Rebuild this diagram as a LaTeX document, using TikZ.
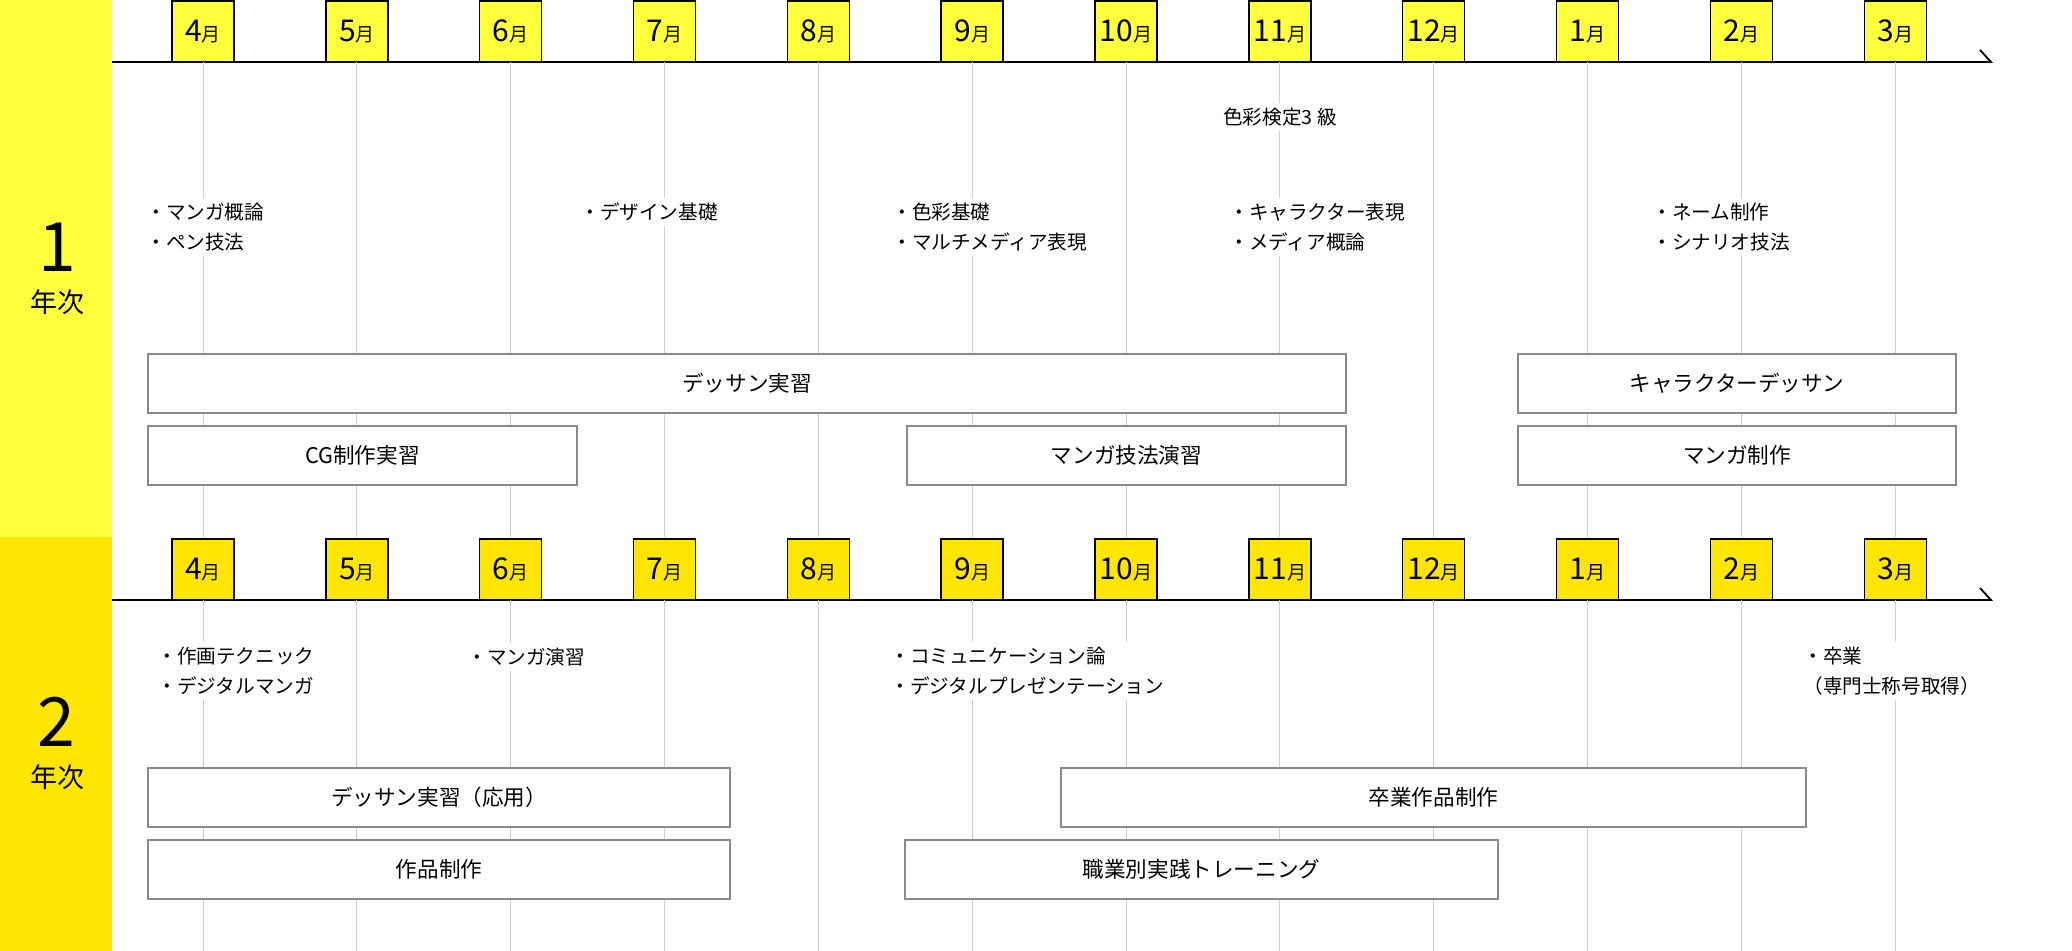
\documentclass[tikz,border=0pt]{standalone}
\usepackage{fontspec}
\setmainfont{Noto Sans CJK JP}
\usepackage{tikz}
\usetikzlibrary{positioning, chains}

\definecolor{yearone}{HTML}{FFFF3C}
\definecolor{yeartwo}{HTML}{FFE600}
\definecolor{framegray}{HTML}{8A8A8A}
\definecolor{gridgray}{HTML}{CFCFCF}

\newcommand{\tsuki}[1]{{\fontsize{15}{15}\selectfont #1}{\fontsize{9.5}{9.5}\selectfont 月}}

\begin{document}
\begin{tikzpicture}[x=0.5pt, y=-0.5pt, font=\fontsize{9.8}{15}\selectfont, node distance=45.92pt,
    monthbox/.style={draw, line width=0.75pt, minimum width=31pt, minimum height=30.6pt, inner sep=0pt, outer sep=0pt, anchor=south},
    course/.style={draw=framegray, fill=white, line width=0.8pt, minimum height=29.5pt, inner sep=0pt, font=\fontsize{10.8}{12}\selectfont},
    topic/.style={fill=white, align=left, anchor=west, inner xsep=2pt, inner ysep=2.5pt},
    monthline/.style={gridgray, line width=0.5pt},
    axisline/.style={line width=0.9pt}]

\useasboundingbox (0,0) rectangle (2072,951);

\fill[yearone] (0,0) rectangle (112,537);
\fill[yeartwo] (0,537) rectangle (112,951);

\coordinate (bot1) at (0,537);
\coordinate (bot2) at (0,951);
\coordinate (ax1s) at (112,62);
\coordinate (ax1e) at (1991,62);
\coordinate (ax2s) at (112,600);
\coordinate (ax2e) at (1991,600);

\begin{scope}[start chain=going right]
    \node [monthbox, fill=yearone, on chain] (a4) at (203,62) {\tsuki{4}};
    \node [monthbox, fill=yearone, on chain] (a5) {\tsuki{5}};
    \node [monthbox, fill=yearone, on chain] (a6) {\tsuki{6}};
    \node [monthbox, fill=yearone, on chain] (a7) {\tsuki{7}};
    \node [monthbox, fill=yearone, on chain] (a8) {\tsuki{8}};
    \node [monthbox, fill=yearone, on chain] (a9) {\tsuki{9}};
    \node [monthbox, fill=yearone, on chain] (a10) {\tsuki{10}};
    \node [monthbox, fill=yearone, on chain] (a11) {\tsuki{11}};
    \node [monthbox, fill=yearone, on chain] (a12) {\tsuki{12}};
    \node [monthbox, fill=yearone, on chain] (a1) {\tsuki{1}};
    \node [monthbox, fill=yearone, on chain] (a2) {\tsuki{2}};
    \node [monthbox, fill=yearone, on chain] (a3) {\tsuki{3}};
\end{scope}

\begin{scope}[start chain=going right]
    \node [monthbox, fill=yeartwo, on chain] (b4) at (203,600) {\tsuki{4}};
    \node [monthbox, fill=yeartwo, on chain] (b5) {\tsuki{5}};
    \node [monthbox, fill=yeartwo, on chain] (b6) {\tsuki{6}};
    \node [monthbox, fill=yeartwo, on chain] (b7) {\tsuki{7}};
    \node [monthbox, fill=yeartwo, on chain] (b8) {\tsuki{8}};
    \node [monthbox, fill=yeartwo, on chain] (b9) {\tsuki{9}};
    \node [monthbox, fill=yeartwo, on chain] (b10) {\tsuki{10}};
    \node [monthbox, fill=yeartwo, on chain] (b11) {\tsuki{11}};
    \node [monthbox, fill=yeartwo, on chain] (b12) {\tsuki{12}};
    \node [monthbox, fill=yeartwo, on chain] (b1) {\tsuki{1}};
    \node [monthbox, fill=yeartwo, on chain] (b2) {\tsuki{2}};
    \node [monthbox, fill=yeartwo, on chain] (b3) {\tsuki{3}};
\end{scope}

\draw[axisline] (ax1s) -- (ax1e) -- ++(-11,-12);
\draw[axisline] (ax2s) -- (ax2e) -- ++(-11,-12);

\draw[monthline] (a4.south) -- (a4.south |- bot1) (a5.south) -- (a5.south |- bot1)
    (a6.south) -- (a6.south |- bot1) (a7.south) -- (a7.south |- bot1)
    (a8.south) -- (a8.south |- bot1) (a9.south) -- (a9.south |- bot1)
    (a10.south) -- (a10.south |- bot1) (a11.south) -- (a11.south |- bot1)
    (a12.south) -- (a12.south |- bot1) (a1.south) -- (a1.south |- bot1)
    (a2.south) -- (a2.south |- bot1) (a3.south) -- (a3.south |- bot1);
\draw[monthline] (b4.south) -- (b4.south |- bot2) (b5.south) -- (b5.south |- bot2)
    (b6.south) -- (b6.south |- bot2) (b7.south) -- (b7.south |- bot2)
    (b8.south) -- (b8.south |- bot2) (b9.south) -- (b9.south |- bot2)
    (b10.south) -- (b10.south |- bot2) (b11.south) -- (b11.south |- bot2)
    (b12.south) -- (b12.south |- bot2) (b1.south) -- (b1.south |- bot2)
    (b2.south) -- (b2.south |- bot2) (b3.south) -- (b3.south |- bot2);

% year labels
\node[inner sep=0pt, font=\fontsize{34}{34}\selectfont] (yr1) at (57,247) {1};
\node[inner sep=0pt, font=\fontsize{13.5}{14}\selectfont] (yr1t) at (57,302) {年次};
\node[inner sep=0pt, font=\fontsize{34}{34}\selectfont] (yr2) at (56,722) {2};
\node[inner sep=0pt, font=\fontsize{13.5}{14}\selectfont] (yr2t) at (57,777) {年次};

% courses
\node[course, minimum width=599pt] (dessin) at (747,383.5) {デッサン実習};
\node[course, minimum width=214.5pt] (cg) at (362.5,455.5) {CG制作実習};
\node[course, minimum width=219.5pt] (gihou) at (1126.5,455.5) {マンガ技法演習};
\node[course, minimum width=219pt] (chardes) at (1737,383.5) {キャラクターデッサン};
\node[course, minimum width=219pt] (mangasei) at (1737,455.5) {マンガ制作};
\node[course, minimum width=291pt] (dessinapp) at (439,797.5) {デッサン実習（応用）};
\node[course, minimum width=291pt] (sakuhin) at (439,869.5) {作品制作};
\node[course, minimum width=372.5pt] (sotsusaku) at (1433.5,797.5) {卒業作品制作};
\node[course, minimum width=296.5pt] (shokugyo) at (1201.5,869.5) {職業別実践トレーニング};

% topics
\node[topic, anchor=center] (kentei) at (1280,117) {色彩検定3 級};
\node[topic] (tp1) at (142,227) {・マンガ概論\\・ペン技法};
\node[topic] (tp2) at (576,212) {・デザイン基礎};
\node[topic] (tp3) at (888,227) {・色彩基礎\\・マルチメディア表現};
\node[topic] (tp4) at (1225,227) {・キャラクター表現\\・メディア概論};
\node[topic] (tp5) at (1648,227) {・ネーム制作\\・シナリオ技法};
\node[topic] (tp6) at (153,671) {・作画テクニック\\・デジタルマンガ};
\node[topic] (tp7) at (463,657) {・マンガ演習};
\node[topic] (tp8) at (886,671) {・コミュニケーション論\\・デジタルプレゼンテーション};
\node[topic] (tp9) at (1799,671) {・卒業\\（専門士称号取得）};

\end{tikzpicture}
\end{document}
